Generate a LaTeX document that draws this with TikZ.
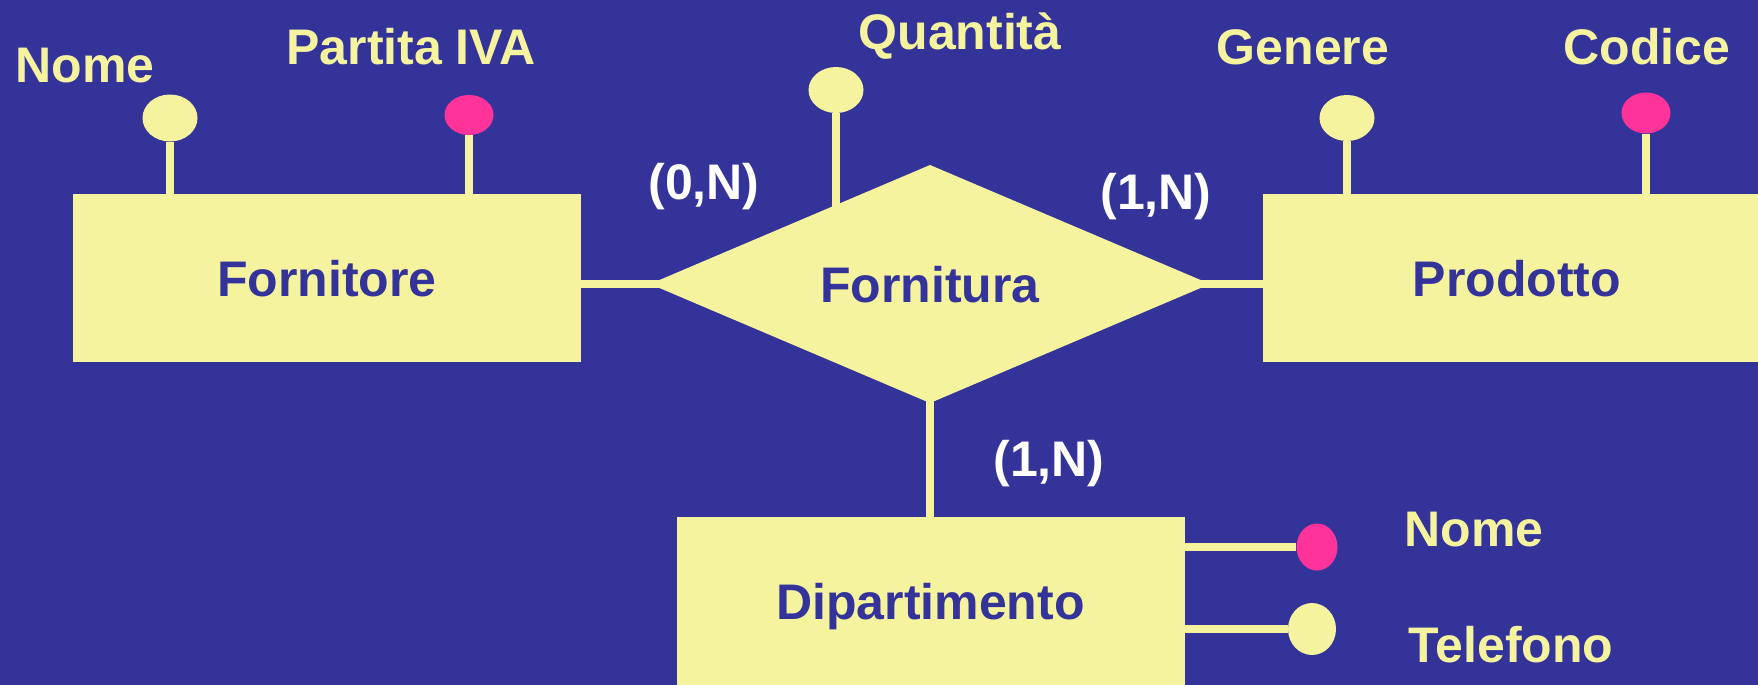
\documentclass[tikz,border=0pt]{standalone}
\usepackage{fontspec}
\setmainfont{Liberation Sans}
\usetikzlibrary{shapes.geometric,backgrounds}
\definecolor{bgblue}{HTML}{333399}
\definecolor{erYellow}{HTML}{F6F39F}
\definecolor{erPink}{HTML}{FF3399}
\begin{document}
\begin{tikzpicture}[x=1pt,y=-1pt,
  every node/.style={font=\fontsize{50}{60}\selectfont\bfseries},
  entity/.style={rectangle, fill=erYellow, text=bgblue, minimum width=508pt, minimum height=168pt, inner sep=0pt, text height=36pt, text depth=0pt},
  relation/.style={diamond, aspect=2.277, fill=erYellow, text=bgblue, minimum width=560pt, minimum height=238pt, inner sep=0pt, outer sep=0pt, text height=36pt, text depth=0pt},
  attr/.style={ellipse, fill=erYellow, inner sep=0pt},
  keyattr/.style={ellipse, fill=erPink, inner sep=0pt},
  attrlabel/.style={text=erYellow, anchor=base, inner sep=0pt},
  cardlabel/.style={text=white, anchor=base, inner sep=0pt},
  link/.style={draw=erYellow, line width=7.5pt}]
\useasboundingbox (0,0) rectangle (1758,685);
% entities and relationship
\node[entity] (forn) at (327,278) {Fornitore};
\node[entity] (prod) at (1517,278) {Prodotto};
\node[entity] (dip) at (930.5,601) {Dipartimento};
\node[relation] (fornitura) at (930,284) {Fornitura};
% attribute circles
\node[attr, minimum width=55pt, minimum height=47pt] (nomeF) at (170,118) {};
\node[keyattr, minimum width=49pt, minimum height=40pt] (piva) at (469,115) {};
\node[attr, minimum width=55pt, minimum height=46pt] (quant) at (836,90) {};
\node[attr, minimum width=55pt, minimum height=46pt] (genere) at (1347,118) {};
\node[keyattr, minimum width=49pt, minimum height=41pt] (codice) at (1646,113) {};
\node[keyattr, minimum width=41pt, minimum height=47pt] (nomeD) at (1317,547) {};
\node[attr, minimum width=48pt, minimum height=52pt] (tel) at (1312,629) {};
% attribute labels
\node[attrlabel] (nomeFl) at (85,82) {Nome};
\node[attrlabel] (pival) at (411,65) {Partita IVA};
\node[attrlabel] (quantl) at (960,49) {Quantità};
\node[attrlabel] (generel) at (1303,65) {Genere};
\node[attrlabel] (codicel) at (1647,65) {Codice};
\node[attrlabel] (nomeDl) at (1474,546) {Nome};
\node[attrlabel] (tell) at (1511,662) {Telefono};
% cardinalities
\node[cardlabel] (cardF) at (704,199) {(0,N)};
\node[cardlabel] (cardP) at (1156,209) {(1,N)};
\node[cardlabel] (cardD) at (1049,476) {(1,N)};
\begin{pgfonlayer}{background}
\fill[bgblue] (0,0) rectangle (1758,685);
\draw[link] (nomeF) -- (nomeF |- forn.north);
\draw[link] (piva) -- (piva |- forn.north);
\draw[link] (quant) -- (quant |- fornitura.center);
\draw[link] (genere) -- (genere |- prod.north);
\draw[link] (codice) -- (codice |- prod.north);
\draw[link] (fornitura.center) -- (fornitura.center -| forn.center);
\draw[link] (fornitura.center) -- (fornitura.center -| prod.center);
\draw[link] (fornitura.center) -- (fornitura.center |- dip.center);
\draw[link] (dip.center |- nomeD) -- (nomeD);
\draw[link] (dip.center |- tel) -- (tel);
\end{pgfonlayer}
\end{tikzpicture}
\end{document}
